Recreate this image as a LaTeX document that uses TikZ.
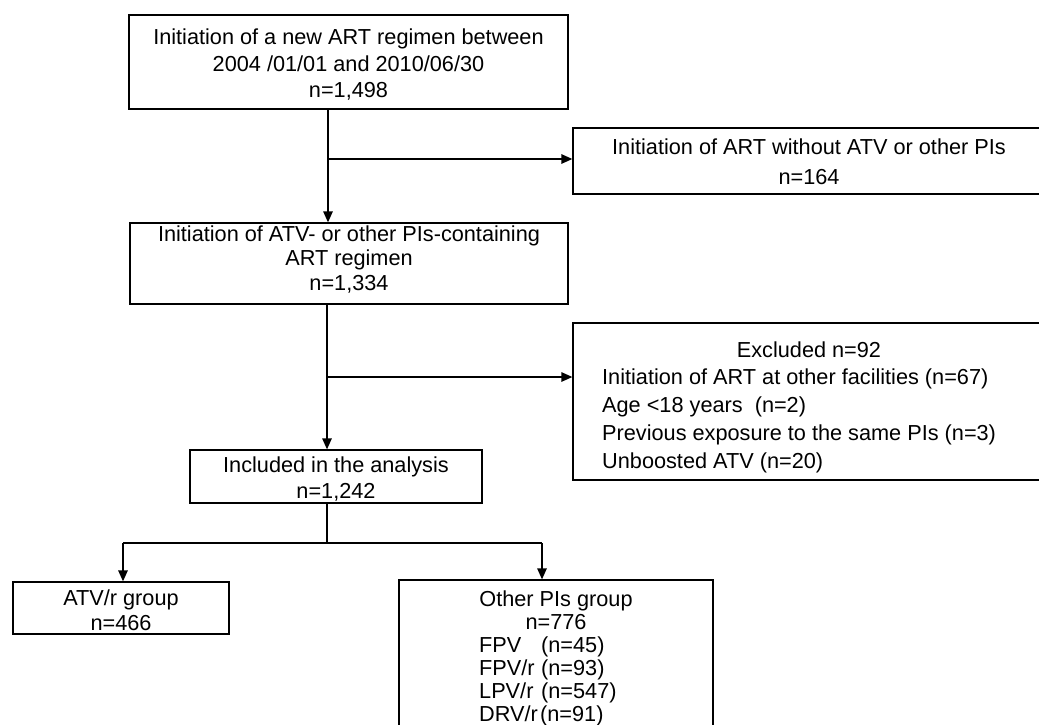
\documentclass[tikz,border=0pt]{standalone}
\usepackage{fontspec}
\setmainfont{Liberation Sans}
\usetikzlibrary{arrows.meta}
\begin{document}
\begin{tikzpicture}[x=1pt,y=-1pt,
  box/.style={draw=black,line width=1.3pt,inner sep=0pt},
  txt/.style={inner sep=0pt,align=center},
  lst/.style={inner sep=0pt,align=left,anchor=west},
  conn/.style={draw=black,line width=1.3pt},
  arr/.style={conn,-{Triangle[length=11pt,width=9.5pt]}}]
\useasboundingbox (0,0) rectangle (1039,725);
\clip (0,0) rectangle (1039,725);
\fill[white] (0,0) rectangle (1039,725);

% boxes
\node[box,minimum width=439pt,minimum height=94pt] (b1) at (348.5,62) {};
\node[box,minimum width=472pt,minimum height=66pt] (w) at (809,161) {};
\node[box,minimum width=438pt,minimum height=81pt] (b2) at (349,263.5) {};
\node[box,minimum width=472pt,minimum height=157pt] (excl) at (809,401.5) {};
\node[box,minimum width=292pt,minimum height=53pt] (incl) at (336,476.5) {};
\node[box,minimum width=216pt,minimum height=52pt] (atv) at (121,608) {};
\node[box,minimum width=314pt,minimum height=160pt] (other) at (556,660) {};

% texts
\node[txt,font=\fontsize{21.7pt}{26.5pt}\selectfont] (t1) at (348.5,65) {Initiation of a new ART regimen between\\2004 /01/01 and 2010/06/30\\n=1,498};
\node[txt,font=\fontsize{21.7pt}{30pt}\selectfont] (tw) at (809,162) {Initiation of ART without ATV or other PIs\\n=164};
\node[txt,font=\fontsize{21.7pt}{24.5pt}\selectfont] (t2) at (349,259.5) {Initiation of ATV- or other PIs-containing\\ART regimen\\n=1,334};
\node[txt,font=\fontsize{21.7pt}{28pt}\selectfont] (te) at (809,350) {Excluded n=92};
\node[lst,font=\fontsize{21.7pt}{28pt}\selectfont] (tel) at (602,421) {Initiation of ART at other facilities (n=67)\\Age <18 years\ \ (n=2)\\Previous exposure to the same PIs (n=3)\\Unboosted ATV (n=20)};
\node[txt,font=\fontsize{21.7pt}{26pt}\selectfont] (ti) at (336,479.5) {Included in the analysis\\n=1,242};
\node[txt,font=\fontsize{21.7pt}{25pt}\selectfont] (ta) at (121,610) {ATV/r group\\n=466};
\node[txt,font=\fontsize{21.7pt}{23.3pt}\selectfont] (to) at (556,610) {Other PIs group\\n=776};
\node[lst,font=\fontsize{21.7pt}{23pt}\selectfont] (tol) at (479,681) {\makebox[62pt][l]{FPV}(n=45)\\\makebox[62pt][l]{FPV/r}(n=93)\\\makebox[62pt][l]{LPV/r}(n=547)\\\makebox[61pt][l]{DRV/r}(n=91)};

% connectors
\coordinate (j1) at (328,159);
\coordinate (j2) at (327,377);
\coordinate (j3) at (327,543);
\coordinate (jl) at (123,543);
\coordinate (jr) at (542,543);
\draw[arr] (j1 |- b1.south) -- (j1 |- b2.north);
\draw[arr] (j1) -- (j1 -| w.west);
\draw[arr] (j2 |- b2.south) -- (j2 |- incl.north);
\draw[arr] (j2) -- (j2 -| excl.west);
\draw[conn] (j3 |- incl.south) -- (j3);
\draw[conn] (jl) -- (jr);
\draw[arr] (jl) -- (jl |- atv.north);
\draw[arr] (jr) -- (jr |- other.north);
\end{tikzpicture}
\end{document}
